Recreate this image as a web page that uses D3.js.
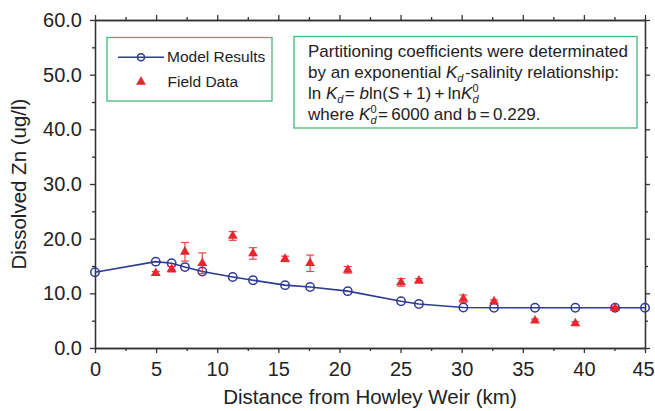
<!DOCTYPE html>
<html><head><meta charset="utf-8">
<script src="https://cdn.jsdelivr.net/npm/d3@7"></script>
<style>
html,body{margin:0;padding:0;background:#fff;}
text{font-family:"Liberation Sans",Arial,sans-serif;fill:#222;}
</style></head>
<body>
<svg id="chart" width="655" height="411"></svg>
<script>
// ---- data ----
const modelX = [0, 4.97, 6.27, 7.36, 8.78, 11.27, 12.93, 15.55, 17.6, 20.68, 25.04, 26.5, 30.14, 32.65, 36.0, 39.3, 42.55, 45];
const modelY = [13.85, 15.8, 15.5, 14.8, 14.0, 13.0, 12.4, 11.5, 11.16, 10.4, 8.54, 8.05, 7.4, 7.35, 7.35, 7.35, 7.35, 7.35];
const fieldX = [4.97, 6.27, 7.36, 8.78, 11.27, 12.93, 15.55, 17.6, 20.68, 25.04, 26.5, 30.14, 32.65, 36.0, 39.3, 42.55];
const fieldY = [13.7, 14.4, 17.6, 15.5, 20.5, 17.3, 16.3, 15.5, 14.3, 12.0, 12.3, 9.0, 8.5, 5.0, 4.5, 7.3];
const fieldErr = [0.3, 0.5, 1.7, 1.9, 0.8, 1.05, 0.5, 1.5, 0.6, 0.7, 0.4, 0.7, 0.3, 0.3, 0.3, 0.3];
const xMajor = [0, 5, 10, 15, 20, 25, 30, 35, 40, 45];
const xMinor = [2.5, 7.5, 12.5, 17.5, 22.5, 27.5, 32.5, 37.5, 42.5];
const yMajor = [0, 10, 20, 30, 40, 50, 60];
const yMinor = [5, 15, 25, 35, 45, 55];
const xTitle = "Distance from Howley Weir (km)";
const yTitle = "Dissolved Zn (ug/l)";
const legendLabels = ["Model Results", "Field Data"];

const blue = "#2e3a93", red = "#e8262d", green = "#45b97c", axisCol = "#333";
const svg = d3.select("#chart");
const x = d3.scaleLinear().domain([0, 45]).range([95, 645]);
const y = d3.scaleLinear().domain([0, 60]).range([348, 20]);

function styleAxis(g){
  g.selectAll("path.domain").attr("stroke", axisCol).attr("stroke-width", 1.3);
  g.selectAll(".tick line").attr("stroke", axisCol).attr("stroke-width", 1.3);
  g.selectAll("text").style("font-family", '"Liberation Sans",Arial,sans-serif').style("font-size", "20px").attr("fill", "#222");
}
// bottom
const xb = svg.append("g").attr("transform", `translate(0,${y(0)})`)
  .call(d3.axisBottom(x).tickValues(xMajor).tickSize(5).tickSizeOuter(0).tickPadding(9).tickFormat(d3.format("d"))).call(styleAxis);
xb.selectAll(".tick text").filter(d=>d===45).attr("dx", -2);
svg.append("g").attr("transform", `translate(0,${y(0)})`)
  .call(d3.axisBottom(x).tickValues(xMinor).tickSize(3).tickSizeOuter(0).tickFormat("")).call(styleAxis);
// top
svg.append("g").attr("transform", `translate(0,${y(60)})`)
  .call(d3.axisTop(x).tickValues(xMajor).tickSize(5).tickSizeOuter(0).tickFormat("")).call(styleAxis);
svg.append("g").attr("transform", `translate(0,${y(60)})`)
  .call(d3.axisTop(x).tickValues(xMinor).tickSize(3).tickSizeOuter(0).tickFormat("")).call(styleAxis);
// left
svg.append("g").attr("transform", `translate(${x(0)},0)`)
  .call(d3.axisLeft(y).tickValues(yMajor).tickSize(5).tickSizeOuter(0).tickPadding(8).tickFormat(d3.format(".1f"))).call(styleAxis);
svg.append("g").attr("transform", `translate(${x(0)},0)`)
  .call(d3.axisLeft(y).tickValues(yMinor).tickSize(3).tickSizeOuter(0).tickFormat("")).call(styleAxis);
// right
svg.append("g").attr("transform", `translate(${x(45)},0)`)
  .call(d3.axisRight(y).tickValues(yMajor).tickSize(5).tickSizeOuter(0).tickFormat("")).call(styleAxis);
svg.append("g").attr("transform", `translate(${x(45)},0)`)
  .call(d3.axisRight(y).tickValues(yMinor).tickSize(3).tickSizeOuter(0).tickFormat("")).call(styleAxis);

// titles
svg.append("text").attr("x", (x(0)+x(45))/2).attr("y", 404).attr("text-anchor", "middle")
  .style("font-size", "20.5px").text(xTitle);
svg.append("text").attr("transform", `translate(26,${(y(0)+y(60))/2}) rotate(-90)`).attr("text-anchor", "middle")
  .style("font-size", "20.5px").text(yTitle);

// model line
const modelData = modelX.map((v,i)=>({x:v, y:modelY[i]}));
svg.append("path").datum(modelData)
  .attr("d", d3.line().x(d=>x(d.x)).y(d=>y(d.y)))
  .attr("fill", "none").attr("stroke", blue).attr("stroke-width", 1.6);
svg.append("g").selectAll("circle").data(modelData).join("circle")
  .attr("cx", d=>x(d.x)).attr("cy", d=>y(d.y)).attr("r", 4.2)
  .attr("fill", "none").attr("stroke", blue).attr("stroke-width", 1.5);

// field data with error bars (on top)
const fieldData = fieldX.map((v,i)=>({x:v, y:fieldY[i], e:fieldErr[i]}));
const eb = svg.append("g").attr("stroke", red).attr("stroke-width", 1.2).attr("stroke-opacity", 0.85);
fieldData.forEach(d=>{
  eb.append("line").attr("x1", x(d.x)).attr("x2", x(d.x)).attr("y1", y(d.y-d.e)).attr("y2", y(d.y+d.e));
  eb.append("line").attr("x1", x(d.x)-4).attr("x2", x(d.x)+4).attr("y1", y(d.y-d.e)).attr("y2", y(d.y-d.e));
  eb.append("line").attr("x1", x(d.x)-4).attr("x2", x(d.x)+4).attr("y1", y(d.y+d.e)).attr("y2", y(d.y+d.e));
});
const tri = d3.symbol().type(d3.symbolTriangle).size(42);
svg.append("g").selectAll("path").data(fieldData).join("path")
  .attr("d", tri).attr("transform", d=>`translate(${x(d.x)},${y(d.y)})`).attr("fill", red);

// legend
const lg = svg.append("g");
lg.append("rect").attr("x", 107).attr("y", 37.5).attr("width", 165).attr("height", 63.5)
  .attr("fill", "#fff").attr("stroke", green).attr("stroke-width", 1.3);
lg.append("line").attr("x1", 118).attr("x2", 164).attr("y1", 57.3).attr("y2", 57.3).attr("stroke", blue).attr("stroke-width", 1.6);
lg.append("circle").attr("cx", 141).attr("cy", 57.3).attr("r", 3.5).attr("fill", "none").attr("stroke", blue).attr("stroke-width", 1.5);
lg.append("text").attr("x", 167).attr("y", 61.5).style("font-size", "15.5px").text(legendLabels[0]);
lg.append("path").attr("d", tri).attr("transform", "translate(141,82)").attr("fill", red);
lg.append("text").attr("x", 167.5).attr("y", 86.5).style("font-size", "15.5px").text(legendLabels[1]);

// annotation
const an = svg.append("g");
an.append("rect").attr("x", 294).attr("y", 36.5).attr("width", 343).attr("height", 91.5)
  .attr("fill", "#fff").attr("stroke", green).attr("stroke-width", 1.3);
const fs = 17, tx = 308;
function line(yb){ return an.append("text").attr("x", tx).attr("y", yb).style("font-size", fs+"px"); }
function Kd(t, sup){
  t.append("tspan").style("font-style", "italic").text("K");
  if (sup){
    t.append("tspan").attr("dy", -7).style("font-size", "11px").text("0");
    t.append("tspan").attr("dx", -6.1).attr("dy", 11).style("font-size", "11px").style("font-style", "italic").text("d");
    t.append("tspan").attr("dy", -4).text("\u200A");
  } else {
    t.append("tspan").attr("dy", 4).style("font-size", "11px").style("font-style", "italic").text("d");
    t.append("tspan").attr("dy", -4).text("\u200A");
  }
}
line(57).text("Partitioning coefficients were determinated");
let t2 = line(78); t2.append("tspan").text("by an exponential "); Kd(t2,false); t2.append("tspan").text("-salinity relationship:");
let t3 = line(99); t3.append("tspan").text("ln "); Kd(t3,false);
t3.append("tspan").text("= "); t3.append("tspan").style("font-style","italic").text("b");
t3.append("tspan").text("ln("); t3.append("tspan").style("font-style","italic").text("S");
t3.append("tspan").text("\u2009+\u20091)\u2009+\u2009ln"); Kd(t3,true);
let t4 = line(119.5); t4.append("tspan").text("where "); Kd(t4,true);
t4.append("tspan").text("=\u20096000 and b\u2009=\u20090.229.");
</script>
</body></html>
